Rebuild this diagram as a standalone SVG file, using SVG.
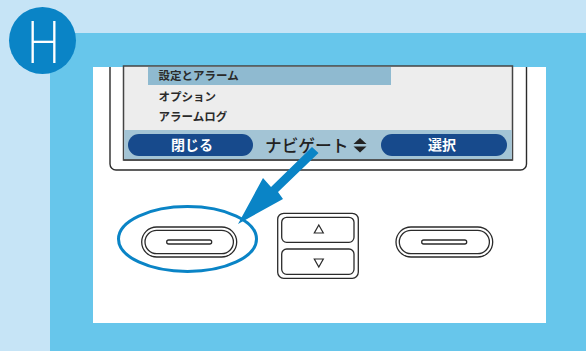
<svg xmlns="http://www.w3.org/2000/svg" width="586" height="351" viewBox="0 0 586 351">
<style>
.line{fill:none;stroke:#2b2b2b;stroke-width:1.4}
.btn{fill:#fff;stroke:#2b2b2b;stroke-width:1.3}
.menu{font-family:"Noto Sans CJK JP","Noto Sans",sans-serif;font-weight:bold;font-size:11.5px;fill:#2a2a2a}
.pill{fill:#174a8c}
.pilltxt{font-family:"Noto Sans CJK JP","Noto Sans",sans-serif;font-weight:bold;font-size:14px;fill:#fff;text-anchor:middle}
.blue{fill:#0a84c6}
</style>
<rect x="0" y="0" width="586" height="351" fill="#c6e4f6"/>
<rect x="50" y="33" width="536" height="318" fill="#67c6eb"/>
<rect x="93" y="67" width="453" height="256" fill="#fff"/>
<g id="badge">
<circle cx="42.5" cy="40.5" r="33.5" class="blue"/>
<text x="43.5" y="63" font-family="Lato,'Liberation Sans',sans-serif" font-weight="300" font-size="60" fill="#fff" text-anchor="middle" textLength="33" lengthAdjust="spacingAndGlyphs">H</text>
</g>
<g id="device">
<path class="line" d="M110,67 V164 a6,6 0 0 0 6,6 H520.5 a6,6 0 0 0 6,-6 V67"/>
</g>
<g id="screen">
<rect x="123.5" y="66" width="389" height="94" fill="#ededed" stroke="#444" stroke-width="1.5"/>
<rect x="148" y="67" width="243" height="18" fill="#8fbad0"/>
<text class="menu" x="158.5" y="79.5">設定とアラーム</text>
<text class="menu" x="158.5" y="100.5">オプション</text>
<text class="menu" x="158.5" y="121">アラームログ</text>
<rect x="124.25" y="130" width="387.5" height="29.25" fill="#a3c4d5"/>
<line x1="123.5" y1="160" x2="512.5" y2="160" stroke="#444" stroke-width="1.5"/>
</g>
<g id="btn-close">
<rect class="pill" x="128" y="134" width="125" height="22" rx="11"/>
<text class="pilltxt" x="192" y="150">閉じる</text>
</g>
<g id="navigate">
<text x="265" y="151.5" font-family="'Noto Sans CJK JP','Noto Sans',sans-serif" font-weight="500" font-size="16.7" fill="#222">ナビゲート</text>
<polygon points="360,138 366.5,144 353.5,144" fill="#222"/>
<polygon points="353.5,146.5 366.5,146.5 360,152.5" fill="#222"/>
</g>
<g id="btn-select">
<rect class="pill" x="381" y="134" width="126" height="22" rx="11"/>
<text class="pilltxt" x="442" y="150">選択</text>
</g>
<g id="key-left">
<rect class="btn" x="141.7" y="227" width="95" height="30" rx="15"/>
<rect class="btn" x="145" y="230.3" width="88.4" height="23.4" rx="11.7"/>
<rect class="btn" x="166.7" y="240" width="45" height="4" rx="2"/>
</g>
<g id="key-nav">
<rect class="btn" x="277.7" y="213.3" width="80.6" height="65" rx="6"/>
<rect class="btn" x="281.7" y="217.3" width="72.3" height="25" rx="5"/>
<rect class="btn" x="281.7" y="249" width="72.3" height="25.3" rx="5"/>
<polygon points="318.8,225 323.3,233 314.3,233" fill="none" stroke="#2b2b2b" stroke-width="1.2"/>
<polygon points="314.3,259 323.3,259 318.8,267" fill="none" stroke="#2b2b2b" stroke-width="1.2"/>
</g>
<g id="key-right">
<rect class="btn" x="396" y="227" width="96.7" height="30" rx="15"/>
<rect class="btn" x="399.3" y="230.3" width="90.1" height="23.4" rx="11.7"/>
<rect class="btn" x="421.7" y="240" width="45" height="4" rx="2"/>
</g>
<g id="connectors">
<ellipse cx="187.5" cy="239" rx="69" ry="32.5" fill="none" stroke="#0a84c6" stroke-width="3"/>
<polygon class="blue" points="312,147 271,187 263,178 238,224 283,199 278,192 318.5,153"/>
</g>
</svg>
